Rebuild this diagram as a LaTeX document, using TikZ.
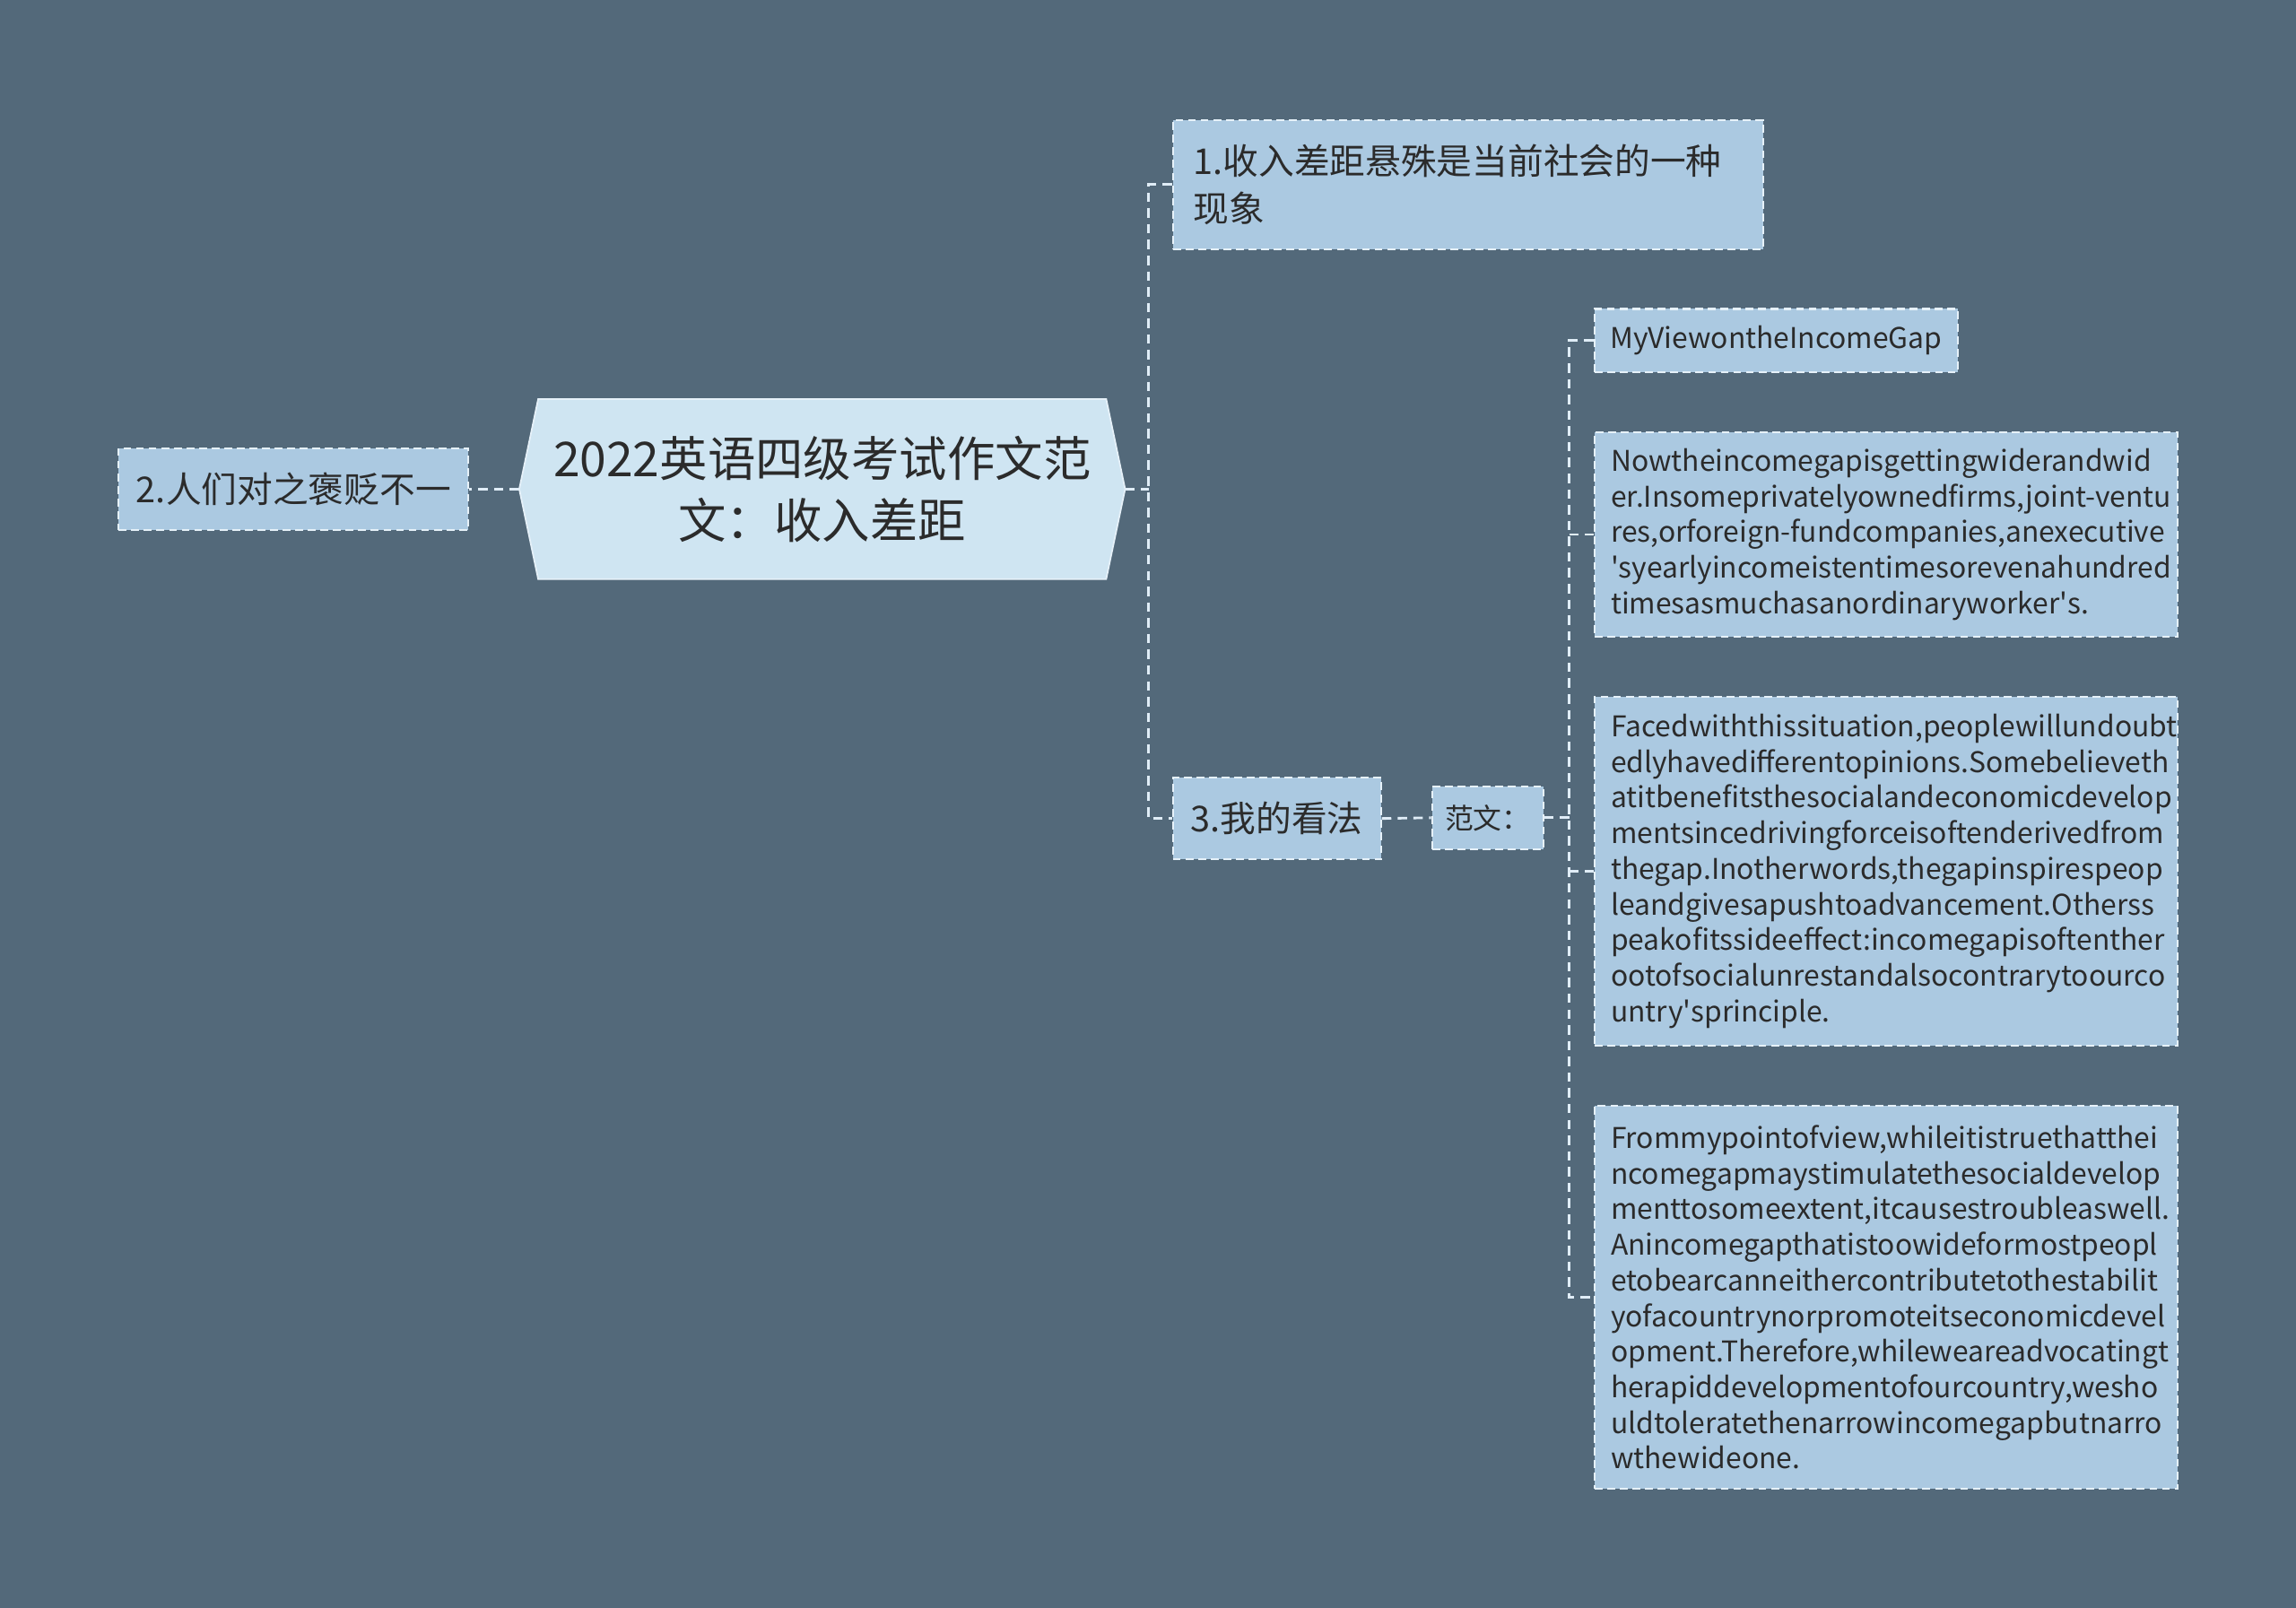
\documentclass[tikz,border=0pt]{standalone}
\usepackage{fontspec}
\setmainfont{Noto Sans CJK SC}
\usetikzlibrary{calc,backgrounds}

\definecolor{bgcol}{HTML}{53697A}
\definecolor{boxcol}{HTML}{ABC9E1}
\definecolor{rootcol}{HTML}{CFE5F2}
\definecolor{edgecol}{HTML}{E6F1F9}
\definecolor{linkcol}{HTML}{E0EDF7}
\definecolor{textcol}{HTML}{2B2B2B}

\tikzset{
  box/.style={draw=edgecol, fill=boxcol, text=textcol, line width=0.6pt,
    dash pattern=on 2.5pt off 1.5pt, inner xsep=0pt, inner ysep=0pt},
  bigbox/.style={box, font=\fontsize{11.3}{14.9}\selectfont},
  smallbox/.style={box, font=\fontsize{9.05}{11.3}\selectfont},
  parabox/.style={box, minimum width=184.9pt, text width=174.6pt, align=left,
    font=\fontsize{9.05}{11.3}\selectfont},
  link/.style={draw=linkcol, line width=0.8pt, dash pattern=on 3pt off 2pt}
}

\begin{document}
\begin{tikzpicture}[x=0.016327cm, y=-0.016327cm]
\begin{scope}[on background layer]
\fill[bgcol] (0,0) rectangle (1568,1098);
\end{scope}
\useasboundingbox (0,0) rectangle (1568,1098);

% centre topic
\node[inner sep=0pt, minimum width=179.8pt, minimum height=56.7pt, text=textcol,
  align=center, font=\fontsize{15.2}{19.5}\selectfont] (root) at (561.5,334)
  {2022英语四级考试作文范\\文：收入差距};
\coordinate (rootL) at ($(root.west)+(-6pt,0)$);
\coordinate (rootR) at ($(root.east)+(6pt,0)$);
\begin{scope}[on background layer]
\draw[fill=rootcol, draw=edgecol, line width=0.5pt] (rootL) -- (root.north west)
  -- (root.north east) -- (rootR) -- (root.south east) -- (root.south west) -- cycle;
\end{scope}

% first level
\node[bigbox, minimum width=111pt, minimum height=26pt] (left) at (200.5,334) {2.人们对之褒贬不一};
\node[bigbox, minimum width=187.2pt, minimum height=40.9pt, text width=174.2pt, align=left] (n1) at (1002.5,126)
  {1.收入差距悬殊是当前社会的一种\\现象};
\node[bigbox, minimum width=66pt, minimum height=26pt] (n3) at (872,559) {3.我的看法};

% second level
\node[smallbox, minimum width=35.3pt, minimum height=20pt] (fanwen) at (1016,558.5) {范文：};

% essay parts
\node[smallbox, minimum width=115.2pt, minimum height=20pt] (title) at (1213,232.5) {MyViewontheIncomeGap};
\node[parabox, minimum height=65pt] (p1) at (1288,365)
  {Nowtheincomegapisgettingwiderandwid\\
   \mbox{er.Insomeprivatelyownedfirms,joint-ventu}\\
   \mbox{res,orforeign-fundcompanies,anexecutive}\\
   \textquotesingle syearlyincomeistentimesorevenahundred\\
   timesasmuchasanordinaryworker\textquotesingle s.};
\node[parabox, minimum height=110.6pt] (p2) at (1288,595)
  {Facedwiththissituation,peoplewillundoubt\\
   edlyhavedifferentopinions.Somebelieveth\\
   atitbenefitsthesocialandeconomicdevelop\\
   mentsincedrivingforceisoftenderivedfrom\\
   thegap.Inotherwords,thegapinspirespeop\\
   leandgivesapushtoadvancement.Otherss\\
   peakofitssideeffect:incomegapisoftenther\\
   ootofsocialunrestandalsocontrarytoourco\\
   untry\textquotesingle sprinciple.};
\node[parabox, minimum height=121.7pt] (p3) at (1288,886)
  {Frommypointofview,whileitistruethatthei\\
   ncomegapmaystimulatethesocialdevelop\\
   menttosomeextent,itcausestroubleaswell.\\
   Anincomegapthatistoowideformostpeopl\\
   etobearcanneithercontributetothestabilit\\
   yofacountrynorpromoteitseconomicdevel\\
   opment.Therefore,whileweareadvocatingt\\
   herapiddevelopmentofourcountry,wesho\\
   uldtoleratethenarrowincomegapbutnarro\\
   wthewideone.};

% connectors
\coordinate (j1) at ($(rootR)+(16,0)$);
\coordinate (j2) at ($(fanwen.east)+(17,0)$);
\draw[link] (rootL) -- (left.east);
\draw[link] (rootR) -- (j1);
\draw[link] (n1.west) -- (n1.west -| j1) -- (n3.west -| j1) -- (n3.west);
\draw[link] (n3.east) -- (fanwen.west);
\draw[link] (fanwen.east) -- (j2);
\draw[link] (title.west) -- (title.west -| j2) -- (p3.west -| j2) -- (p3.west);
\draw[link] (p1.west -| j2) -- (p1.west);
\draw[link] (p2.west -| j2) -- (p2.west);
\end{tikzpicture}
\end{document}
